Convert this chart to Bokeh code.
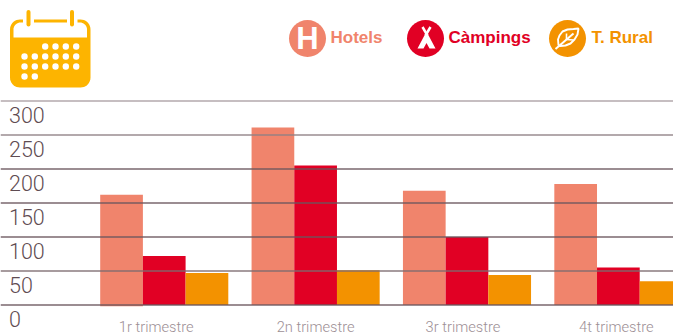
import numpy as np
from bokeh.plotting import figure
from bokeh.models import Range1d, Span
from bokeh.core.properties import value
from bokeh.embed import file_html
from bokeh.resources import INLINE

# ---- data
quarters = ["1r trimestre", "2n trimestre", "3r trimestre", "4t trimestre"]
hotels = [162, 261, 168, 178]
hotels_base = [-2, 0, 0, 0]
campings = [72, 205, 100, 55]
rural = [47, 51, 44, 35]
series_names = ["Hotels", "Càmpings", "T. Rural"]
y_ticks = [0, 50, 100, 150, 200, 250, 300]

# ---- style
HOT, CAM, RUR = "#f0846c", "#e10024", "#f39200"
AMB = "#fdb400"
GRID = ["#6b575d", "#7d6b70", "#6b575d", "#6b575d", "#6b575d", "#8f7f84", "#ab9fa3"]
ORG = 0
W, H = 673, 334
PX_PER_UNIT = 34.0 / 50
ZERO_PAGE = 304.5
BAR_PX = 42.7
PITCH = 3.545  # group pitch in bar widths
X0_PAGE = 99.7
FONT = value("Roboto Light")

p = figure(width=W, height=H, output_backend="svg", toolbar_location=None,
           min_border=0, outline_line_color=None,
           x_range=Range1d((ORG - X0_PAGE) / BAR_PX, (ORG + W - X0_PAGE) / BAR_PX),
           y_range=Range1d((ZERO_PAGE - (ORG + H)) / PX_PER_UNIT, (ZERO_PAGE - ORG) / PX_PER_UNIT))
p.xaxis.visible = False
p.yaxis.visible = False
p.grid.visible = False
p.background_fill_color = None
p.border_fill_color = None
p.extra_x_ranges = {"px": Range1d(ORG, ORG + W)}
p.extra_y_ranges = {"px": Range1d(ORG + H, ORG)}
PX = dict(x_range_name="px", y_range_name="px")

# ---- bars
for s, (vals, base, col) in enumerate(zip([hotels, campings, rural], [hotels_base, [0] * 4, [0] * 4], [HOT, CAM, RUR])):
    xs = [i * PITCH + s + 0.5 for i in range(len(quarters))]
    p.vbar(x=xs, top=vals, width=1.0, bottom=base, fill_color=col, line_color=None)

# ---- gridlines over bars
for t, c in zip(y_ticks, GRID):
    p.add_layout(Span(location=t, dimension="width", line_color=c, line_width=1.3, line_alpha=0.9, level="overlay"))

# ---- y tick labels, hanging under their lines
p.text(x=[(8.5 - X0_PAGE) / BAR_PX] * len(y_ticks), y=y_ticks, text=[str(t) for t in y_ticks],
       text_font=FONT, text_font_size="21.5px", text_color="#5f4c52",
       text_baseline="middle", text_align="left", y_offset=14)

# ---- x labels
label_nudge = [-8, 0, -4, -2]
p.text(x=[i * PITCH + 1.5 for i in range(len(quarters))], y=[0] * len(quarters), text=quarters,
       text_font=FONT, text_font_size="14.7px", text_color="#9d8f95",
       text_baseline="middle", text_align="center", x_offset=label_nudge, y_offset=21.5)

# ---- legend
BOLD = value("Liberation Sans")
for cx, col, name, tx in zip([307, 425, 567], [HOT, CAM, RUR], series_names, [330, 448, 591]):
    p.scatter(x=[cx], y=[38], size=37, marker="circle", fill_color=col, line_color=None, **PX)
    p.text(x=[tx], y=[37], text=[name], text_font=BOLD, text_font_style="bold", text_font_size="17px",
           text_color=col, text_baseline="middle", text_align="left", **PX)

# H glyph
p.text(x=[307], y=[38], text=["H"], text_font=BOLD, text_font_style="bold", text_font_size="31px",
       text_color="white", text_baseline="middle", text_align="center", **PX)
# tent
p.patch(x=[426, 435, 429, 426, 423, 417], y=[31, 48, 48, 42.5, 48, 48],
        fill_color="white", line_color=None, **PX)
p.multi_line(xs=[[422, 427], [430, 425]], ys=[[26.5, 35], [26.5, 35]], line_color="white", line_width=2.5, **PX)
# leaf
p.line(x=[558, 557.5, 559, 562, 567, 573, 578, 577, 574, 570, 565, 560, 558],
       y=[45, 39, 35, 31, 29, 28.5, 28, 34, 39, 43, 45, 45.5, 45],
       line_color="white", line_width=1.9, **PX)
p.line(x=[555, 573], y=[48.5, 33], line_color="white", line_width=2, **PX)
p.multi_line(xs=[[566, 566], [566, 573]], ys=[[39, 33], [39, 39.5]], line_color="white", line_width=1.6, **PX)

# ---- calendar icon
def rrect(x0, y0, x1, y1, r):
    out_x, out_y = [], []
    for cx, cy, a0 in [(x1 - r, y0 + r, -90), (x1 - r, y1 - r, 0), (x0 + r, y1 - r, 90), (x0 + r, y0 + r, 180)]:
        a = np.radians(np.linspace(a0, a0 + 90, 10))
        out_x += list(cx + r * np.cos(a))
        out_y += list(cy + r * np.sin(a))
    return out_x, out_y

bx, by = rrect(9.5, 19, 90, 87, 10)
p.patch(bx, by, fill_color=AMB, line_color=None, **PX)
wx, wy = rrect(13, 22, 86.5, 60, 7)
p.patch([v for v in wx], [min(v, 37) for v in wy], fill_color="white", line_color=None, **PX)
p.segment(x0=[22.5, 66.5], y0=[20.5, 20.5], x1=[33.5, 77], y1=[20.5, 20.5], line_color="white", line_width=5, **PX)
p.segment(x0=[28, 71.5], y0=[11.5, 11.5], x1=[28, 71.5], y1=[24, 24], line_color=AMB, line_width=4, line_cap="round", **PX)
cols = [24, 34.3, 44.7, 55, 65.3, 75.7]
rows = [46, 56, 66, 76]
dot_x = [cols[c] for c in (2, 3, 4, 5)] + cols + cols + cols[:2]
dot_y = [rows[0]] * 4 + [rows[1]] * 6 + [rows[2]] * 6 + [rows[3]] * 2
p.scatter(x=dot_x, y=dot_y, size=6.4, marker="circle", fill_color="white", line_color=None, **PX)

open("out.html", "w").write(file_html(p, INLINE))
